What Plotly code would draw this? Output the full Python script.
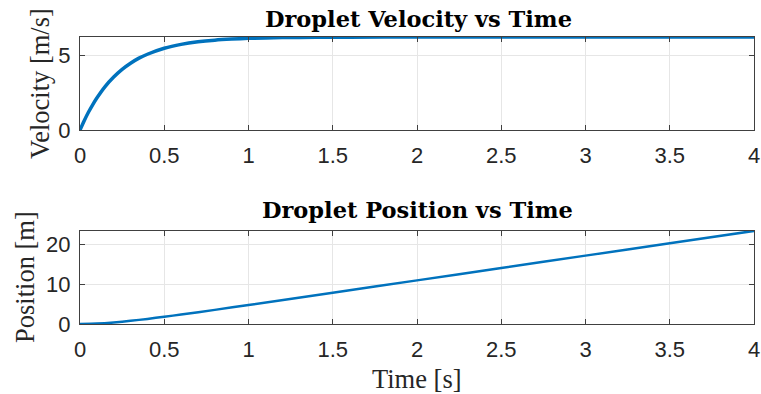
import plotly.graph_objects as go
from plotly.subplots import make_subplots

# Data
time_v = [0, 0.025, 0.05, 0.075, 0.1, 0.15, 0.2, 0.25, 0.3, 0.35, 0.4, 0.5, 0.6, 0.7,
          0.8, 0.9, 1.0, 1.2, 1.4, 1.6, 2.0, 2.5, 3.0, 3.5, 4.0]
velocity = [0, 0.62, 1.18, 1.68, 2.13, 2.91, 3.53, 4.04, 4.45, 4.79, 5.05, 5.45, 5.71, 5.88,
            5.99, 6.06, 6.11, 6.16, 6.18, 6.19, 6.20, 6.20, 6.20, 6.20, 6.20]

time_p = [0, 0.1, 0.2, 0.3, 0.4, 0.5, 0.6, 0.8, 1.0, 1.5, 2.0, 2.5, 3.0, 3.5, 4.0]
position = [0, 0.12, 0.40, 0.80, 1.28, 1.81, 2.37, 3.54, 4.75, 7.83, 10.93, 14.03, 17.13, 20.23, 23.33]

x_ticks = [0, 0.5, 1, 1.5, 2, 2.5, 3, 3.5, 4]
x_tick_text = ["0", "0.5", "1", "1.5", "2", "2.5", "3", "3.5", "4"]
v_ticks = [0, 5]
p_ticks = [0, 10, 20]

title_v = "Droplet Velocity vs Time"
title_p = "Droplet Position vs Time"
label_v = "Velocity [m/s]"
label_p = "Position [m]"
label_t = "Time [s]"

W, H = 761, 394
ML, MR, MT, MB = 80, 7, 37, 70
plot_h = H - MT - MB  # 287

def py(px):
    return (H - MB - px) / plot_h

def px_x(px):
    return (px - ML) / (W - ML - MR)

fig = make_subplots(rows=2, cols=1, vertical_spacing=0.0)
fig.add_trace(go.Scatter(x=time_v, y=velocity, mode="lines", line=dict(color="#0072BD", width=3.5, shape="spline", smoothing=0.6)), row=1, col=1)
fig.add_trace(go.Scatter(x=time_p, y=position, mode="lines", line=dict(color="#0072BD", width=2.5, shape="spline", smoothing=0.6)), row=2, col=1)

axis_common = dict(
    showline=True, linecolor="#404040", linewidth=1, mirror="ticks",
    ticks="inside", ticklen=5, tickcolor="#404040", tickwidth=1,
    showgrid=True, gridcolor="#E6E6E6", gridwidth=1, zeroline=False, automargin=False,
    tickfont=dict(family="Liberation Sans, Arial", size=22, color="#262626"),
)

fig.update_layout(
    width=W, height=H, margin=dict(l=ML, r=MR, t=MT, b=MB),
    paper_bgcolor="white", plot_bgcolor="white", showlegend=False,
    xaxis=dict(domain=[0, 1], anchor="y", range=[0, 4], tickvals=x_ticks, ticktext=x_tick_text,
               ticklabelstandoff=6, **axis_common),
    yaxis=dict(domain=[py(130), 1], anchor="x", range=[0, 6.2], tickvals=v_ticks,
               ticklabelstandoff=4, **axis_common),
    xaxis2=dict(domain=[0, 1], anchor="y2", range=[0, 4], tickvals=x_ticks, ticktext=x_tick_text,
                ticklabelstandoff=6, **axis_common),
    yaxis2=dict(domain=[0, py(231)], anchor="x2", range=[0, 23.3], tickvals=p_ticks,
                ticklabelstandoff=4, **axis_common),
)

title_font = dict(family="DejaVu Serif", size=22.5, color="black")
label_font = dict(family="Liberation Serif, Times New Roman", size=26.5, color="#262626")

fig.update_layout(annotations=[
    dict(text="<b>" + title_v + "</b>", x=px_x(418), y=py(19), xref="paper", yref="paper",
         xanchor="center", yanchor="middle", showarrow=False, font=title_font),
    dict(text="<b>" + title_p + "</b>", x=px_x(417), y=py(210), xref="paper", yref="paper",
         xanchor="center", yanchor="middle", showarrow=False, font=title_font),
    dict(text=label_v, x=px_x(40), y=py(84), xref="paper", yref="paper", textangle=-90,
         xanchor="center", yanchor="middle", showarrow=False, font=label_font),
    dict(text=label_p, x=px_x(25), y=py(277), xref="paper", yref="paper", textangle=-90,
         xanchor="center", yanchor="middle", showarrow=False, font=label_font),
    dict(text=label_t, x=px_x(417), y=py(379), xref="paper", yref="paper",
         xanchor="center", yanchor="middle", showarrow=False, font=label_font),
])

fig.write_html("out.html")
